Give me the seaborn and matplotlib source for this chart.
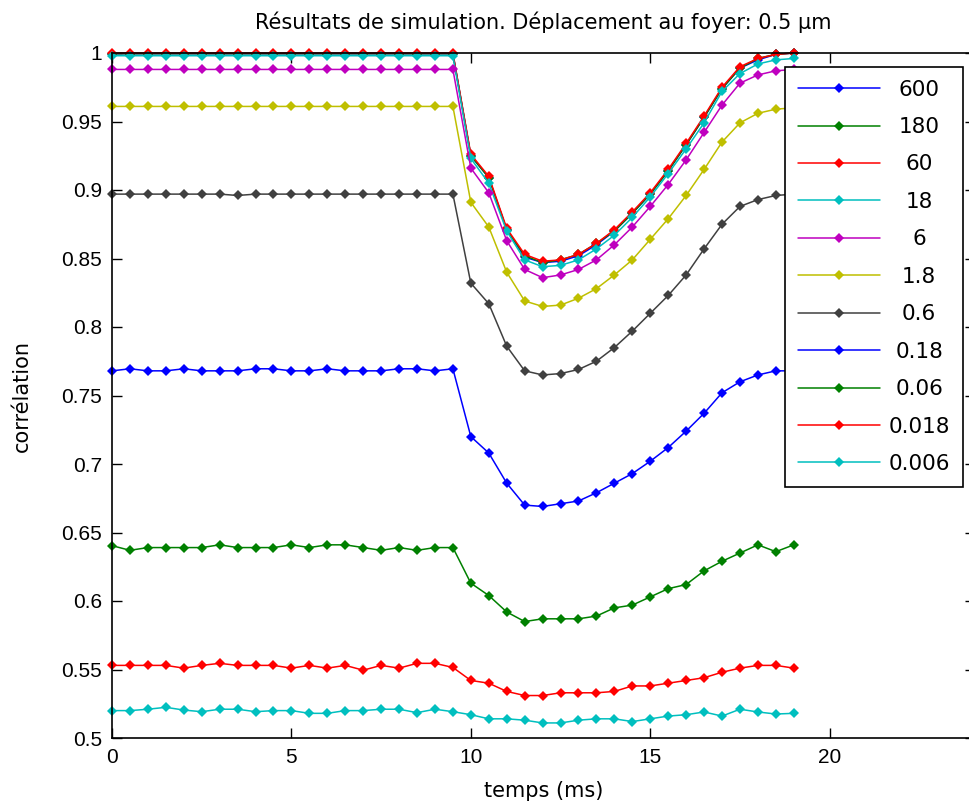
import matplotlib
matplotlib.use('Agg')
import matplotlib.pyplot as plt
from matplotlib.ticker import FuncFormatter
import numpy as np
import seaborn as sns

# Time axis (ms).
temps = [0, 0.5, 1, 1.5, 2, 2.5, 3, 3.5, 4, 4.5, 5, 5.5, 6, 6.5, 7, 7.5, 8, 8.5, 9, 9.5,
         10, 10.5, 11, 11.5, 12, 12.5, 13, 13.5, 14, 14.5, 15, 15.5, 16, 16.5, 17, 17.5,
         18, 18.5, 19]

# Legend labels.
labels = ['600', '180', '60', '18', '6', '1.8', '0.6', '0.18', '0.06', '0.018', '0.006']

# Correlation curves, one per label.
c600 = [0.9995] * 20 + [0.925, 0.909, 0.871, 0.851, 0.847, 0.848, 0.852, 0.860, 0.870,
                         0.883, 0.897, 0.914, 0.933, 0.953, 0.974, 0.989, 0.995, 0.999, 1.0]
c180 = [0.9995] * 20 + [0.925, 0.909, 0.871, 0.852, 0.847, 0.849, 0.853, 0.861, 0.870,
                         0.883, 0.897, 0.914, 0.933, 0.953, 0.974, 0.989, 0.996, 0.999, 1.0]
c60 = [1.0] * 20 + [0.926, 0.910, 0.872, 0.853, 0.848, 0.849, 0.853, 0.861, 0.871,
                     0.884, 0.898, 0.915, 0.934, 0.954, 0.975, 0.990, 0.996, 0.999, 1.0]
c18 = [0.998] * 20 + [0.923, 0.905, 0.870, 0.849, 0.844, 0.845, 0.849, 0.857, 0.867,
                       0.880, 0.895, 0.912, 0.930, 0.949, 0.972, 0.985, 0.992, 0.995, 0.996]
c6 = [0.988] * 20 + [0.916, 0.898, 0.863, 0.842, 0.836, 0.838, 0.842, 0.849, 0.860,
                      0.873, 0.888, 0.904, 0.922, 0.942, 0.962, 0.978, 0.984, 0.987, 0.988]
c1_8 = [0.961] * 20 + [0.891, 0.873, 0.840, 0.819, 0.815, 0.816, 0.821, 0.828, 0.838,
                        0.849, 0.864, 0.879, 0.896, 0.915, 0.935, 0.949, 0.956, 0.959, 0.960]
c0_6 = [0.897, 0.897, 0.897, 0.897, 0.897, 0.897, 0.897, 0.896, 0.897, 0.897,
        0.897, 0.897, 0.897, 0.897, 0.897, 0.897, 0.897, 0.897, 0.897, 0.897,
        0.832, 0.817, 0.786, 0.768, 0.765, 0.766, 0.769, 0.775, 0.785,
        0.797, 0.810, 0.823, 0.838, 0.857, 0.875, 0.888, 0.893, 0.896, 0.897]
c0_18 = [0.768, 0.7695, 0.768, 0.768, 0.7695, 0.768, 0.768, 0.768, 0.7695, 0.7695,
         0.768, 0.768, 0.7695, 0.768, 0.768, 0.768, 0.7695, 0.7695, 0.768, 0.7695,
         0.720, 0.708, 0.686, 0.670, 0.669, 0.671, 0.673, 0.679, 0.686,
         0.693, 0.702, 0.712, 0.724, 0.737, 0.752, 0.760, 0.765, 0.768, 0.768]
c0_06 = [0.6404, 0.637, 0.639, 0.639, 0.639, 0.639, 0.641, 0.639, 0.639, 0.639,
         0.641, 0.639, 0.641, 0.641, 0.639, 0.637, 0.639, 0.637, 0.639, 0.639,
         0.613, 0.604, 0.592, 0.585, 0.587, 0.587, 0.587, 0.589, 0.595,
         0.597, 0.603, 0.609, 0.612, 0.622, 0.629, 0.635, 0.641, 0.636, 0.641]
c0_018 = [0.553, 0.553, 0.553, 0.553, 0.551, 0.553, 0.5545, 0.553, 0.553, 0.553,
          0.551, 0.553, 0.551, 0.553, 0.5495, 0.553, 0.551, 0.5545, 0.5545, 0.5515,
          0.542, 0.540, 0.534, 0.531, 0.531, 0.533, 0.533, 0.533, 0.534,
          0.538, 0.538, 0.540, 0.542, 0.544, 0.548, 0.551, 0.553, 0.553, 0.551]
c0_006 = [0.520, 0.520, 0.521, 0.5224, 0.5204, 0.5192, 0.521, 0.521, 0.5192, 0.520,
          0.520, 0.518, 0.518, 0.520, 0.520, 0.521, 0.521, 0.5185, 0.521, 0.5192,
          0.517, 0.514, 0.514, 0.513, 0.511, 0.511, 0.513, 0.514, 0.514,
          0.512, 0.514, 0.516, 0.517, 0.519, 0.516, 0.521, 0.519, 0.5175, 0.518]

series = [c600, c180, c60, c18, c6, c1_8, c0_6, c0_18, c0_06, c0_018, c0_006]

# Old MATLAB colour order.
matlab_colors = [(0, 0, 1), (0, 0.5, 0), (1, 0, 0), (0, 0.75, 0.75),
                 (0.75, 0, 0.75), (0.75, 0.75, 0), (0.25, 0.25, 0.25)]

sns.set_style('ticks')
plt.rcParams['font.family'] = ['Liberation Sans', 'DejaVu Sans']
plt.rcParams['font.size'] = 15
for key in ['text.color', 'axes.labelcolor', 'xtick.color', 'ytick.color']:
    plt.rcParams[key] = 'black'

fig = plt.figure(figsize=(9.7, 8.1), dpi=100)
ax = fig.add_axes([112 / 970, 72 / 810, 863 / 970, 685 / 810])

for i, (lab, vals) in enumerate(zip(labels, series)):
    sns.lineplot(x=temps, y=vals, ax=ax, color=matlab_colors[i % 7], marker='D',
                 markersize=5.5, markeredgewidth=0, linewidth=1.1, label=lab,
                 clip_on=False)

ax.set_xlim(0, 24.05)
ax.set_ylim(0.5, 1)
ax.set_xticks([0, 5, 10, 15, 20])
ax.set_yticks(np.arange(0.5, 1.001, 0.05))
ax.yaxis.set_major_formatter(FuncFormatter(lambda v, p: '%g' % round(v, 2)))
ax.tick_params(direction='in', top=True, right=True, length=7, width=1,
               labelsize=15, pad=7, colors='black')
for sp in ax.spines.values():
    sp.set_linewidth(1.2)
    sp.set_color('black')

wide = ['DejaVu Sans']
ax.set_title('Résultats de simulation. Déplacement au foyer: 0.5 µm', fontsize=15,
             family=wide, pad=17, color='black')
ax.set_xlabel('temps (ms)', fontsize=15, family=wide, labelpad=10, color='black')
ax.set_ylabel('corrélation', fontsize=15, family=wide, labelpad=21, color='black')

leg = ax.legend(loc='upper left', bbox_to_anchor=(0.78, 0.98), borderaxespad=0,
                fancybox=False, framealpha=1, edgecolor='black',
                prop={'family': wide, 'size': 15.5},
                handlelength=3.8, handletextpad=0.4, borderpad=0.6,
                labelspacing=0.81)
leg.get_frame().set_linewidth(1.2)
for t in leg.get_texts():
    t.set_color('black')

# Centre the legend labels in their column.
fig.canvas.draw()
renderer = fig.canvas.get_renderer()
widths = [t.get_window_extent(renderer).width for t in leg.get_texts()]
w = max(widths)
for t, tw in zip(leg.get_texts(), widths):
    t.set_ha('center')
    t.set_position(((w - tw) / 2, 0))

fig.savefig('out.png', dpi=100, facecolor='white')
